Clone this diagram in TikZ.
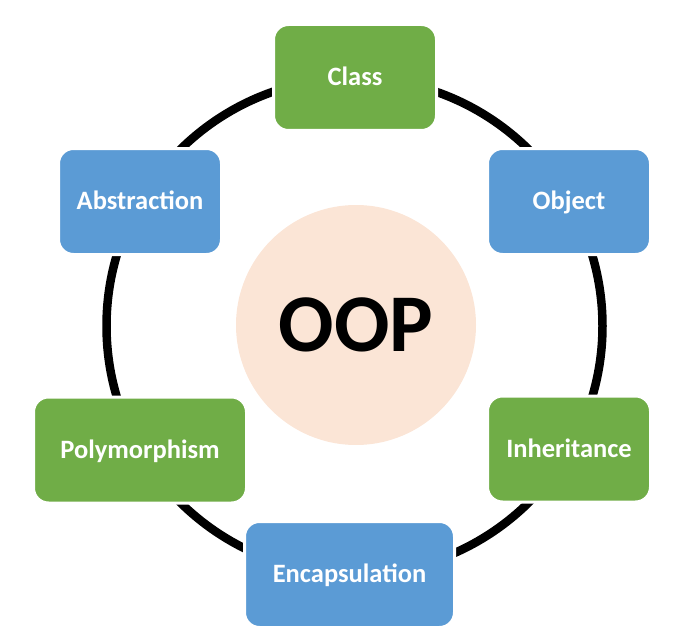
\documentclass[tikz,border=0pt]{standalone}
\usepackage{fontspec}
\setmainfont{Carlito}
\usetikzlibrary{positioning}

\definecolor{boxgreen}{HTML}{70AD47}
\definecolor{boxblue}{HTML}{5B9BD5}
\definecolor{corepeach}{HTML}{FBE5D6}

\begin{document}
\begin{tikzpicture}[
    x=1pt, y=-1pt,
    concept box/.style={rectangle, rounded corners=15pt, draw=white, line width=3pt,
        text=white, inner sep=0pt, minimum width=163pt, minimum height=106pt,
        font=\fontsize{26.5}{31}\selectfont\bfseries, text height=16.7pt, text depth=0pt},
    green box/.style={concept box, fill=boxgreen},
    blue box/.style={concept box, fill=boxblue},
    core/.style={circle, fill=corepeach, inner sep=0pt, minimum size=240pt,
        font=\fontsize{82}{90}\selectfont\bfseries, text height=52pt, text depth=0pt},
]

\useasboundingbox (0,0) rectangle (697,642);

% === Ring ===
\coordinate (ring) at (354.5,326);
\draw[line width=8.5pt] (ring) circle (248);

% === Centre ===
\node[core] (oop) at (356,325) {OOP};

% === Concepts ===
\node[green box] (class) at (355,77.5) {Class};
\node[blue box] (object) at (569,201.5) {Object};
\node[green box] (inherit) at (569,449) {Inheritance};
\node[blue box, minimum width=210pt] (encap) at (349.5,574.5) {Encapsulation};
\node[green box, minimum width=213pt] (poly) at (140,450) {Polymorphism};
\node[blue box] (abstr) at (140,201.5) {Abstraction};

\end{tikzpicture}
\end{document}
